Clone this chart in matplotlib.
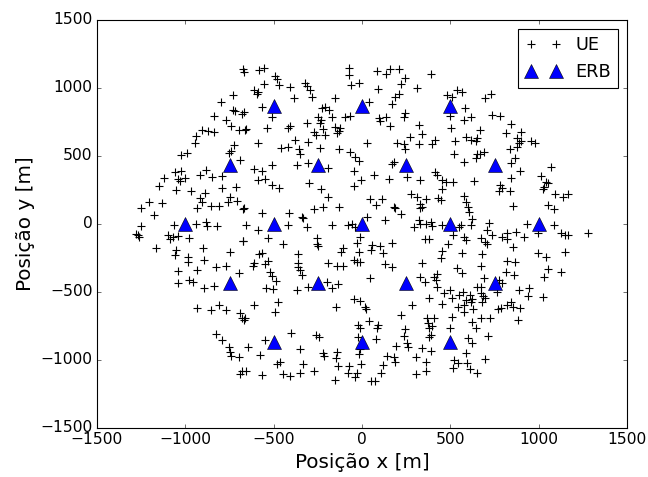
import matplotlib
matplotlib.use("Agg")
import matplotlib.pyplot as plt

plt.style.use("classic")
plt.rcParams["font.family"] = ["DejaVu Sans"]

erb_x = [0, 500, 1000, -500, -1000, 250, 750, -250, -750, 250, 750, -250, -750, 0, 500, -500, 0, 500, -500]
erb_y = [0, 0, 0, 0, 0, 433, 433, 433, 433, -433, -433, -433, -433, 866, 866, 866, -866, -866, -866]

ue_points = [
    (-676, 1139), (-669, 1115), (-733, 948), (-799, 899), (-733, 838), (-718, 830), (-680, 806), (-669, 821),
    (-835, 796), (-771, 762), (-742, 723), (-695, 693), (-661, 693), (-903, 688), (-869, 683), (-835, 678),
    (-941, 649), (-947, 595), (-725, 581), (-752, 524), (-744, 536), (-691, 470), (-1025, 507), (-990, 524),
    (-584, 1132), (-553, 1144), (-493, 1090), (-483, 1066), (-470, 1022), (-553, 1026), (-610, 987), (-587, 972),
    (-595, 953), (-408, 1007), (-322, 1034), (-313, 1017), (-294, 985), (-383, 924), (-284, 936), (-152, 924),
    (-76, 1144), (-76, 1095), (-65, 1022), (-16, 1034), (-568, 862), (-508, 789), (-228, 850), (-209, 862),
    (-186, 838), (-250, 789), (-231, 764), (-171, 789), (-313, 740), (-237, 740), (-95, 789), (-67, 796),
    (-654, 698), (-540, 703), (-417, 708), (-408, 723), (-269, 678), (-262, 654), (-218, 698), (-209, 654),
    (-152, 715), (-133, 683), (-124, 708), (-143, 666), (-587, 593), (-379, 617), (-459, 556), (-417, 568),
    (-356, 551), (-351, 512), (-303, 600), (-237, 561), (-129, 549), (-67, 532), (-38, 495), (-19, 463),
    (-512, 434), (-370, 434), (-303, 446),
    (85, 1124), (136, 1100), (161, 1139), (208, 1139), (246, 1075), (388, 1100), (223, 1026), (91, 990),
    (312, 997), (212, 953), (189, 936), (167, 879), (42, 894), (483, 948), (511, 936), (540, 985),
    (568, 972), (583, 855), (496, 796), (577, 764), (615, 789), (95, 777), (104, 757), (136, 789),
    (246, 813), (237, 789), (161, 723), (322, 728), (502, 708), (341, 659), (274, 642), (416, 617),
    (398, 585), (199, 593), (237, 585), (246, 551), (322, 585), (28, 593), (526, 610), (591, 642),
    (615, 617), (644, 610), (653, 634), (521, 512), (653, 512), (647, 482), (577, 458), (180, 458), (170, 438),
    (695, 928), (733, 953), (738, 801), (782, 796), (668, 691), (814, 666), (846, 732), (899, 678),
    (876, 630), (890, 593), (899, 610), (880, 568), (956, 610), (979, 593), (839, 551), (691, 527),
    (668, 512), (865, 482), (842, 446), (1069, 421),
    (-1061, 385), (-1023, 390), (-1042, 331), (-1032, 316), (-1004, 336), (-1123, 341), (-919, 360), (-881, 397),
    (-847, 348), (-795, 356), (-1151, 282), (-1051, 250), (-966, 243), (-890, 226), (-915, 189), (-934, 120),
    (-903, 160), (-852, 135), (-809, 135), (-794, 262), (-714, 275), (-748, 201), (-758, 164), (-710, 169),
    (-676, 111), (-1206, 164), (-1131, 152), (-1250, 116), (-1180, 67), (-937, -2), (-881, 13), (-877, -12),
    (-820, -12), (-1066, -7), (-1250, -12), (-1269, -81), (-1263, -93), (-1278, -76), (-1098, -81), (-1070, -93),
    (-1042, -85), (-1089, -110), (-979, -100), (-1168, -179), (-1051, -191), (-1061, -228), (-900, -179), (-896, -264),
    (-985, -240), (-985, -281), (-748, -203), (-676, -125), (-824, -313), (-771, -306), (-1042, -345), (-934, -338),
    (-695, -362),
    (-610, 405), (-565, 390), (-194, 410), (-591, 324), (-549, 331), (-512, 287), (-470, 267), (-300, 299),
    (-231, 258), (-194, 201), (-48, 390), (-4, 324), (-48, 282), (-269, 111), (-218, 128), (-133, 128),
    (-667, 115), (-568, 79), (-413, 79), (-341, 54), (-332, 42), (-313, -19), (-421, -7), (-654, -7),
    (-587, -44), (-167, -7), (-80, -7), (-57, -2), (-38, -19), (-10, -93), (-534, -100), (-445, -149),
    (-256, -105), (-256, -149), (-250, -159), (-673, -125), (-29, -142), (-110, -179), (-118, -208), (-19, -208),
    (-584, -223), (-565, -215), (-360, -223), (-531, -272), (-549, -296), (-610, -289), (-616, -306), (-360, -289),
    (-364, -313), (-351, -338), (-194, -289), (-143, -306), (-110, -306), (-48, -264), (-29, -281), (-10, -277),
    (-521, -355), (-512, -379), (-341, -375),
    (66, 361), (155, 331), (256, 348), (331, 324), (416, 380), (426, 361), (454, 324), (473, 307),
    (515, 307), (634, 316), (451, 258), (280, 218), (312, 201), (360, 184), (432, 189), (445, 177),
    (47, 184), (80, 140), (114, 184), (180, 128), (189, 115), (223, 71), (326, 145), (337, 128),
    (331, 115), (577, 209), (587, 164), (602, 128), (606, 91), (625, 37), (133, 30), (293, -19),
    (322, 30), (331, -2), (360, -2), (388, 17), (394, -12), (451, -7), (549, -19), (558, -7),
    (615, -7), (28, 54), (515, -81), (577, -93), (591, -117), (356, -110), (379, -110), (167, -142),
    (57, -154), (104, -159), (53, -191), (117, -215), (488, -149), (451, -198), (445, -252), (564, -215),
    (337, -289), (129, -296), (167, -313), (540, -325), (568, -362), (47, -399), (331, -387), (407, -387), (426, -370),
    (895, 390), (842, 336), (1013, 356), (1041, 312), (1051, 299), (1022, 258), (1032, 275), (782, 287),
    (795, 262), (839, 243), (776, 243), (1092, 218), (1136, 201), (1168, 218), (852, 135), (1054, 140),
    (1085, 111), (933, -2), (1085, -7), (719, 5), (706, -44), (738, -81), (672, -100), (695, -134),
    (710, -149), (795, -93), (820, -68), (823, -110), (871, -56), (918, -93), (1126, -68), (1149, -81),
    (1168, -81), (998, -68), (1282, -68), (857, -166), (681, -223), (994, -215), (1041, -240), (1149, -208),
    (820, -272), (865, -277), (676, -306), (1051, -330), (1126, -355), (814, -355), (861, -375), (1032, -387),
    (-1042, -436), (-979, -412), (-956, -429), (-896, -468), (-839, -453), (-934, -615), (-852, -632), (-809, -596),
    (-771, -632), (-691, -657), (-682, -689), (-669, -706), (-824, -811), (-790, -853), (-752, -902), (-748, -939),
    (-744, -968), (-695, -975), (-682, -1081), (-688, -1105),
    (-489, -419), (-546, -468), (-502, -478), (-370, -485), (-307, -461), (-199, -429), (-171, -468), (-137, -444),
    (-48, -551), (-10, -566), (-610, -596), (-478, -571), (-493, -645), (-148, -608), (-663, -694), (-402, -804),
    (-262, -816), (-243, -828), (-549, -853), (-648, -902), (-578, -963), (-351, -919), (-218, -951), (-213, -968),
    (-143, -943), (-148, -988), (-23, -743), (-10, -767), (-23, -828), (-10, -919), (-16, -958), (-4, -1032),
    (-464, -1017), (-483, -1032), (-332, -1032), (-137, -1041), (-72, -1041), (-80, -1098), (-29, -1098), (-38, -1122),
    (-654, -1081), (-568, -1110), (-445, -1105), (-408, -1115), (-351, -1098), (-269, -1081), (-152, -1147),
    (356, -429), (420, -412), (382, -542), (426, -461), (464, -510), (496, -485), (507, -547), (549, -522),
    (572, -502), (587, -559), (610, -522), (625, -551), (653, -461), (545, -608), (577, -596), (615, -571),
    (628, -625), (284, -596), (454, -591), (577, -649), (223, -669), (511, -681), (15, -608), (23, -625),
    (42, -713), (91, -743), (85, -762), (369, -689), (407, -689), (375, -730), (398, -747), (382, -767),
    (242, -772), (237, -821), (388, -816), (379, -828), (496, -762), (621, -723), (644, -762), (80, -845),
    (193, -894), (256, -877), (261, -902), (337, -909), (388, -934), (303, -975), (142, -968), (180, -975),
    (189, -1017), (591, -951), (521, -1000), (545, -1024), (515, -1061), (596, -1024), (610, -1066), (360, -1017),
    (363, -1081), (117, -1037), (303, -1105), (110, -1098), (653, -1098), (53, -1154), (72, -1154), (602, -841), (621, -877),
    (691, -395), (776, -412), (795, -436), (676, -461), (676, -510), (687, -527), (695, -542), (681, -571),
    (763, -498), (890, -485), (946, -468), (941, -527), (1022, -534), (842, -571), (852, -608), (820, -596),
    (789, -615), (770, -625), (895, -615), (672, -694), (725, -694), (884, -706), (714, -821), (695, -992),
]
ue_x = [p[0] for p in ue_points]
ue_y = [p[1] for p in ue_points]

x_label = "Posição x [m]"
y_label = "Posição y [m]"

fig = plt.figure(figsize=(8.1, 5.9625), dpi=80, facecolor="white")
ax = fig.add_axes([97 / 648, 49 / 477, 530 / 648, 408 / 477])
ax.plot(ue_x, ue_y, "k+", markersize=8, markeredgewidth=1.0, label="UE")
ax.plot(erb_x, erb_y, "^", color="blue", markeredgecolor="black", markersize=13, label="ERB")
ax.set_xlim(-1500, 1500)
ax.set_ylim(-1500, 1500)
ax.set_xticks(range(-1500, 1501, 500))
ax.set_yticks(range(-1500, 1501, 500))
ax.set_xlabel(x_label, fontsize=18)
ax.set_ylabel(y_label, fontsize=18)
ax.tick_params(labelsize=14)
ax.legend(loc="upper right", numpoints=2, fontsize=16)
fig.savefig("out.png", dpi=80, facecolor="white")
